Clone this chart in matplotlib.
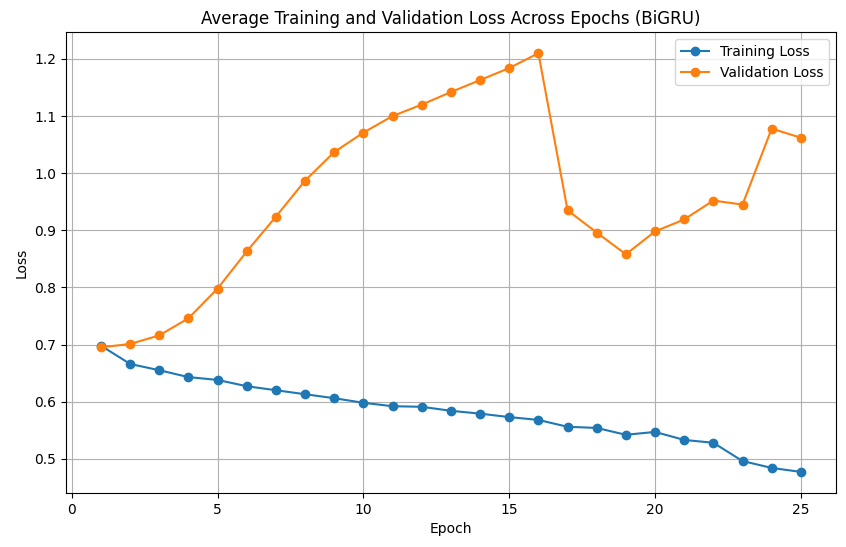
import matplotlib
matplotlib.use("Agg")
import matplotlib.pyplot as plt

# Loss values
epochs = list(range(1, 26))
train_loss = [0.698, 0.666, 0.655, 0.643, 0.638, 0.627, 0.620, 0.613, 0.606, 0.598,
              0.592, 0.591, 0.584, 0.579, 0.573, 0.568, 0.556, 0.554, 0.542, 0.547,
              0.533, 0.528, 0.496, 0.484, 0.477]
val_loss = [0.695, 0.701, 0.716, 0.746, 0.798, 0.863, 0.924, 0.987, 1.037, 1.071,
            1.100, 1.120, 1.142, 1.163, 1.184, 1.210, 0.935, 0.896, 0.858, 0.898,
            0.919, 0.952, 0.945, 1.078, 1.062]

fig, ax = plt.subplots(figsize=(8.46, 5.47), dpi=100)
fig.subplots_adjust(left=0.078, right=0.988, top=0.941, bottom=0.099)

ax.plot(epochs, train_loss, marker="o", label="Training Loss")
ax.plot(epochs, val_loss, marker="o", label="Validation Loss")
ax.set_title("Average Training and Validation Loss Across Epochs (BiGRU)")
ax.set_xlabel("Epoch")
ax.set_ylabel("Loss")
ax.legend()
ax.grid(True)

plt.savefig("out.png")
plt.close()
